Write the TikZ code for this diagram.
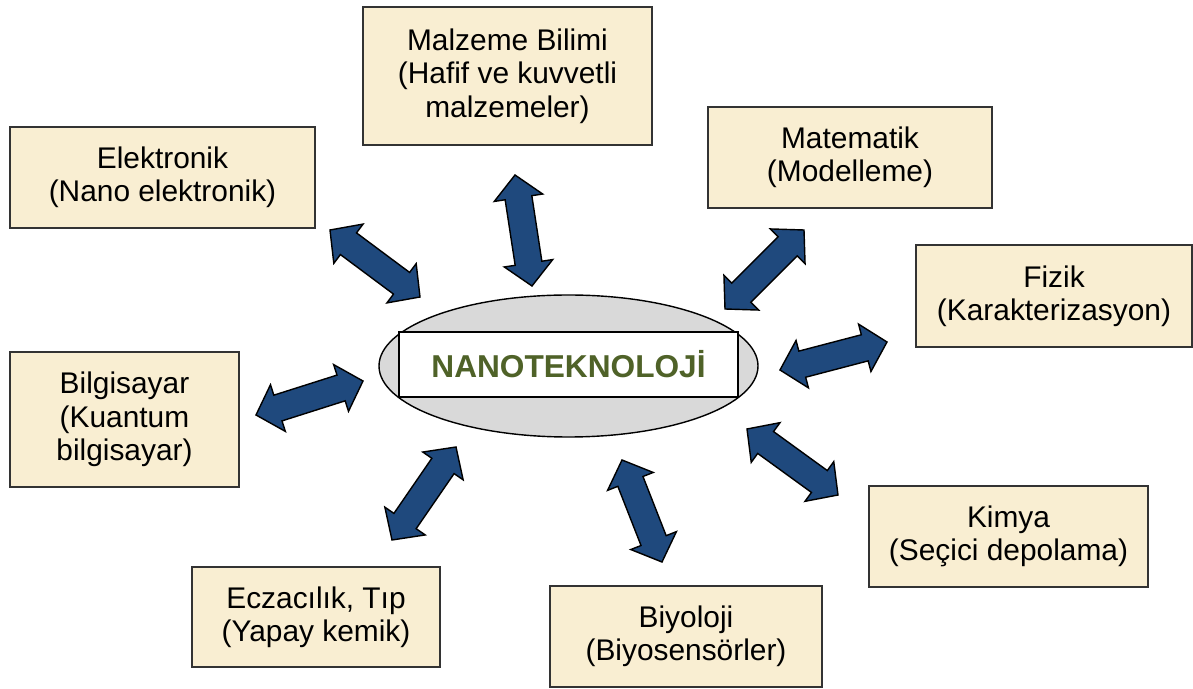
\documentclass[tikz,border=0pt]{standalone}
\usepackage{fontspec}
\setmainfont{Liberation Sans}
\usetikzlibrary{calc, shapes.geometric}
\definecolor{parchment}{RGB}{249,238,210}
\definecolor{arrowblue}{RGB}{31,73,125}
\definecolor{nanogreen}{RGB}{79,98,40}
\definecolor{hubgray}{RGB}{217,217,217}

\tikzset{
	field/.style={align=center, draw=black!80, line width=0.6pt, fill=parchment, font=\fontsize{17}{19}\selectfont},
	bothway/.style={fill=arrowblue, draw=black, line width=0.8pt, line join=miter},
}

% double block arrow between two named points
\newcommand{\twoway}[2]{%
	\filldraw[bothway] (#1)
		-- ($(#1)!0.46cm!(#2)!0.49cm!90:(#2)$)
		-- ($(#1)!0.46cm!(#2)!0.27cm!90:(#2)$)
		-- ($(#2)!0.46cm!(#1)!0.27cm!-90:(#1)$)
		-- ($(#2)!0.46cm!(#1)!0.49cm!-90:(#1)$)
		-- (#2)
		-- ($(#2)!0.46cm!(#1)!0.49cm!90:(#1)$)
		-- ($(#2)!0.46cm!(#1)!0.27cm!90:(#1)$)
		-- ($(#1)!0.46cm!(#2)!0.27cm!-90:(#2)$)
		-- ($(#1)!0.46cm!(#2)!0.49cm!-90:(#2)$)
		-- cycle;}

\begin{document}
\begin{tikzpicture}
			\useasboundingbox (0,0) rectangle (23.86,-13.78);
			% centre
			\node[ellipse, draw, line width=0.8pt, fill=hubgray, minimum width=7.58cm, minimum height=2.84cm] at (11.37, -7.32) (hub) {};
			\node[draw, line width=0.9pt, fill=white, minimum width=6.78cm, minimum height=1.30cm, text=nanogreen, font=\fontsize{18}{20}\selectfont\bfseries] at (11.37, -7.29) (nano) {NANOTEKNOLOJİ};
			% fields
			\node[field, minimum width=5.78cm, minimum height=2.76cm] at (10.15, -1.52) (malzeme) {Malzeme Bilimi\\(Hafif ve kuvvetli\\malzemeler)};
			\node[field, minimum width=6.10cm, minimum height=2.02cm] at (3.25, -3.55) (elektronik) {Elektronik\\(Nano elektronik)};
			\node[field, minimum width=5.68cm, minimum height=2.02cm] at (17.00, -3.15) (matematik) {Matematik\\(Modelleme)};
			\node[field, minimum width=5.52cm, minimum height=2.04cm] at (21.08, -5.92) (fizik) {Fizik\\(Karakterizasyon)};
			\node[field, minimum width=4.58cm, minimum height=2.70cm] at (2.49, -8.39) (bilgisayar) {Bilgisayar\\(Kuantum\\bilgisayar)};
			\node[field, minimum width=5.58cm, minimum height=2.02cm] at (20.17, -10.73) (kimya) {Kimya\\(Seçici depolama)};
			\node[field, minimum width=4.96cm, minimum height=2.00cm] at (6.32, -12.34) (eczacilik) {Eczacılık, Tıp\\(Yapay kemik)};
			\node[field, minimum width=5.44cm, minimum height=2.02cm] at (13.72, -12.73) (biyoloji) {Biyoloji\\(Biyosensörler)};
			% arrow ends
			\coordinate (elektronik-end) at (6.60, -4.60);
			\coordinate (elektronik-hub) at (8.40, -5.94);
			\coordinate (malzeme-end) at (10.30, -3.50);
			\coordinate (malzeme-hub) at (10.64, -5.72);
			\coordinate (matematik-end) at (16.08, -4.60);
			\coordinate (matematik-hub) at (14.50, -6.18);
			\coordinate (fizik-end) at (17.74, -6.84);
			\coordinate (fizik-hub) at (15.60, -7.40);
			\coordinate (kimya-hub) at (14.94, -8.58);
			\coordinate (kimya-end) at (16.76, -9.90);
			\coordinate (biyoloji-hub) at (12.44, -9.20);
			\coordinate (biyoloji-end) at (13.24, -11.24);
			\coordinate (eczacilik-hub) at (9.12, -8.94);
			\coordinate (eczacilik-end) at (7.84, -10.80);
			\coordinate (bilgisayar-end) at (5.12, -8.30);
			\coordinate (bilgisayar-hub) at (7.26, -7.62);
			\twoway{elektronik-end}{elektronik-hub}
			\twoway{malzeme-end}{malzeme-hub}
			\twoway{matematik-end}{matematik-hub}
			\twoway{fizik-end}{fizik-hub}
			\twoway{kimya-hub}{kimya-end}
			\twoway{biyoloji-hub}{biyoloji-end}
			\twoway{eczacilik-hub}{eczacilik-end}
			\twoway{bilgisayar-end}{bilgisayar-hub}
		\end{tikzpicture}
\end{document}
